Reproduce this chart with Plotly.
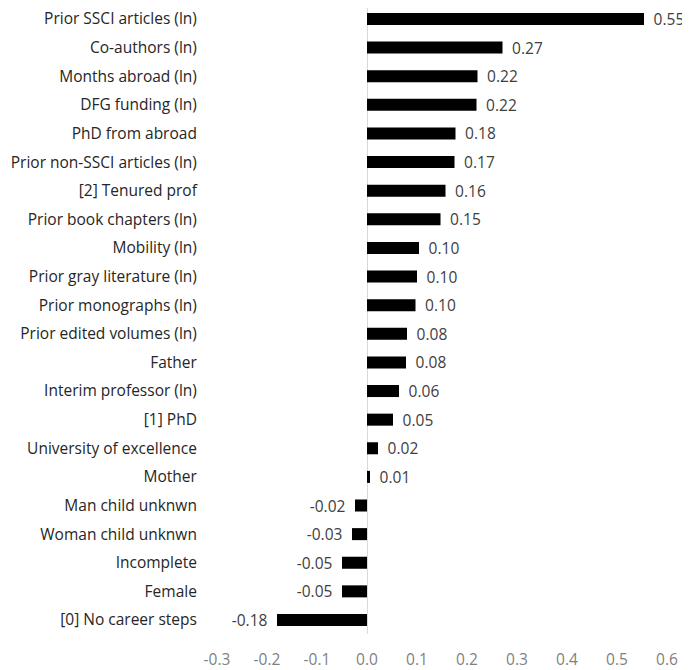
import plotly.graph_objects as go

labels = ["Prior SSCI articles (ln)", "Co-authors (ln)", "Months abroad (ln)", "DFG funding (ln)",
          "PhD from abroad", "Prior non-SSCI articles (ln)", "[2] Tenured prof", "Prior book chapters (ln)",
          "Mobility (ln)", "Prior gray literature (ln)", "Prior monographs (ln)", "Prior edited volumes (ln)",
          "Father", "Interim professor (ln)", "[1] PhD", "University of excellence", "Mother",
          "Man child unknwn", "Woman child unknwn", "Incomplete", "Female", "[0] No career steps"]
values = [0.554, 0.271, 0.221, 0.219, 0.177, 0.175, 0.157, 0.147, 0.104, 0.100, 0.097, 0.080,
          0.078, 0.064, 0.052, 0.022, 0.006, -0.024, -0.030, -0.050, -0.050, -0.180]

xticks = [-0.3, -0.2, -0.1, 0.0, 0.1, 0.2, 0.3, 0.4, 0.5, 0.6]
xtick_text = ["-0.3", "-0.2", "-0.1", "0.0", "0.1", "0.2", "0.3", "0.4", "0.5", "0.6"]

pad = "\u00a0\u2009"
text = [pad + f"{v:.2f}" if v >= 0 else f"{v:.2f}" + pad for v in values]

fig = go.Figure(go.Bar(
    x=values, y=labels, orientation="h",
    marker=dict(color="black", line=dict(width=0)),
    text=text, textposition="outside", cliponaxis=False, constraintext="none",
    textfont=dict(size=15.5, color="#404040"),
))

# page has an 8px body margin, so the figure is a bit smaller than the window
fig.update_layout(
    width=682, height=662,
    margin=dict(l=197, r=23, t=0, b=36),
    plot_bgcolor="white", paper_bgcolor="white",
    font=dict(family="Open Sans, sans-serif", size=15.5, color="#262626"),
    bargap=0.58,
    showlegend=False,
)
fig.update_xaxes(
    range=[-0.324, 0.6], tickvals=xticks, ticktext=xtick_text,
    showgrid=False, zeroline=True, zerolinecolor="#d9d9d9", zerolinewidth=1,
    ticks="outside", ticklen=11, tickcolor="white", showline=False, automargin=False,
    tickfont=dict(size=15.5, color="#7f7f7f"),
)
fig.update_yaxes(
    range=[21.49, -0.384], showgrid=False, showline=False, automargin=False,
    ticks="outside", ticklen=4, tickcolor="white",
    tickfont=dict(size=15.5, color="#262626"),
)

fig.write_html("out.html")
